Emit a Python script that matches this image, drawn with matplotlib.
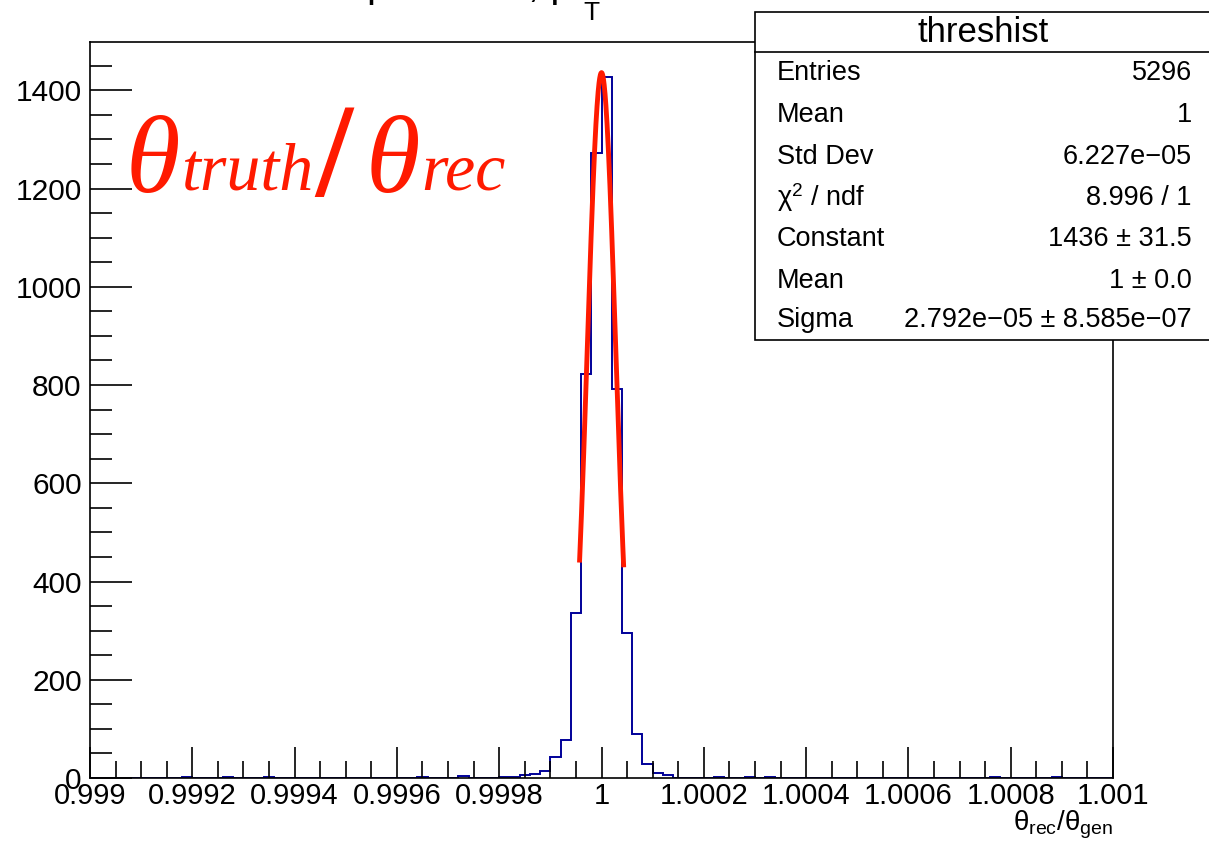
"""
theta ratio histogram, ROOT style
"""

import numpy as np
import matplotlib
matplotlib.use("Agg")
import matplotlib.pyplot as plt
from matplotlib.patches import Rectangle
from matplotlib.lines import Line2D

plt.rcParams['font.family'] = ['Liberation Sans', 'DejaVu Sans']
plt.rcParams['mathtext.fontset'] = 'custom'
plt.rcParams['mathtext.rm'] = 'Liberation Sans'
plt.rcParams['mathtext.it'] = 'Liberation Serif:italic'
plt.rcParams['mathtext.bf'] = 'Liberation Sans:bold'

# histogram: 100 bins between 0.999 and 1.001
x_min, x_max, n_bins = 0.999, 1.001, 100
# bin index -> counts (everything else is 0)
nonzero_bins = [5, 7, 9, 11, 12, 13, 17, 24, 25, 32, 36, 39, 40, 41, 42, 43, 44,
                45, 46, 47, 48, 49, 50, 51, 52, 53, 54, 55, 56,
                58, 61, 64, 66, 69, 72, 74, 77, 81, 85, 88, 89, 94, 98]
nonzero_counts = [1, 1, 2, 1, 1, 2, 2, 1, 1, 2, 4, 1, 2, 2, 6, 9, 14,
                  43, 77, 336, 822, 1273, 1427, 792, 295, 90, 28, 11, 6,
                  1, 2, 2, 2, 1, 1, 1, 1, 1, 1, 2, 1, 2, 1]

# gaussian fit
fit_const = 1436
fit_mean = 1.0
fit_sigma = 2.792e-05
fit_lo, fit_hi = 0.999957, 1.0000434

# stats box
stat_labels = ["Entries", "Mean", "Std Dev", r"$\mathrm{\chi}^{2}$ / ndf",
               "Constant", "Mean", "Sigma"]
stat_values = ["5296", "1", "6.227e\u221205", "8.996 / 1",
               "1436 \u00b1 31.5", "1 \u00b1 0.0",
               "2.792e\u221205 \u00b1 8.585e\u221207"]

edges = np.linspace(x_min, x_max, n_bins + 1)
counts = np.zeros(n_bins)
counts[nonzero_bins] = nonzero_counts

W, H = 1209, 846
fig = plt.figure(figsize=(W / 100, H / 100), dpi=100)
ax = fig.add_axes([90 / W, 1 - 778 / H, (1113 - 90) / W, (778 - 42) / H])

ax.stairs(counts, edges, color='#000099', lw=1.4, baseline=0)

xf = np.linspace(fit_lo, fit_hi, 200)
yf = fit_const * np.exp(-0.5 * ((xf - fit_mean) / fit_sigma) ** 2)
ax.plot(xf, yf, color='#ff1a00', lw=3.5, solid_capstyle='butt')

ax.set_xlim(x_min, x_max)
ax.set_ylim(0, 1.05 * max(nonzero_counts))

ax.set_xticks(np.linspace(x_min, x_max, 11))
ax.set_xticklabels(["0.999", "0.9992", "0.9994", "0.9996", "0.9998", "1",
                    "1.0002", "1.0004", "1.0006", "1.0008", "1.001"])
ax.set_xticks(np.arange(x_min, x_max + 1e-9, 0.00005), minor=True)
ax.set_yticks(np.arange(0, 1401, 200))
ax.set_yticks(np.arange(0, 1451, 50), minor=True)

ax.tick_params(axis='both', which='both', direction='in', width=1.2, colors='black')
ax.tick_params(axis='x', which='major', length=22, labelsize=21, pad=3)
ax.tick_params(axis='x', which='minor', length=12)
ax.tick_params(axis='y', which='major', length=30, labelsize=21.5, pad=6)
ax.tick_params(axis='y', which='minor', length=16)
for s in ax.spines.values():
    s.set_linewidth(1.2)

fig.text(1113 / W, 1 - 825 / H, r"$\mathrm{\theta_{rec}/\theta_{gen}}$",
         ha='right', va='center', fontsize=20)

# red annotation, drawn piece by piece like ROOT's TLatex
red = '#ff1a00'
serif_it = dict(family='Liberation Serif', style='italic', color=red, va='baseline')
fig.text(126 / W, 1 - 192 / H, "\u03b8", fontsize=80, **serif_it)
fig.text(181 / W, 1 - 190 / H, "truth", fontsize=49, **serif_it)
fig.text(315 / W, 1 - 196 / H, "/", fontsize=96, family='Liberation Serif',
         weight='bold', color=red, va='baseline')
fig.text(366 / W, 1 - 192 / H, "\u03b8", fontsize=80, **serif_it)
fig.text(421 / W, 1 - 190 / H, "rec", fontsize=49, **serif_it)

# title, mostly cut off at the top
fig.text(366 / W, 1 + 3 / H, "p", fontsize=29, ha='left', va='baseline')
fig.text(528 / W, 1 + 3 / H, ", p", fontsize=29, ha='left', va='baseline')
fig.text(583 / W, 1 - 20 / H, "T", fontsize=19, ha='left', va='baseline')

# stats box
bl, bt, bb = 755, 12, 340
fig.add_artist(Rectangle((bl / W, 1 - bb / H), (W + 10 - bl) / W, (bb - bt) / H,
                         transform=fig.transFigure, facecolor='white',
                         edgecolor='black', lw=1.2, zorder=5))
fig.add_artist(Line2D([bl / W, 1], [1 - 52 / H, 1 - 52 / H],
                      transform=fig.transFigure, color='black', lw=1.2, zorder=6))
fig.text(983 / W, 1 - 33 / H, "threshist", fontsize=25, ha='center', va='center', zorder=7)
row_y = [73, 115, 157, 198, 239, 281, 320]
for yy, lab, val in zip(row_y, stat_labels, stat_values):
    fig.text(777 / W, 1 - yy / H, lab, fontsize=19.5, ha='left', va='center', zorder=7)
    fig.text(1192 / W, 1 - yy / H, val, fontsize=19.5, ha='right', va='center', zorder=7)

fig.savefig("out.png", dpi=100)
